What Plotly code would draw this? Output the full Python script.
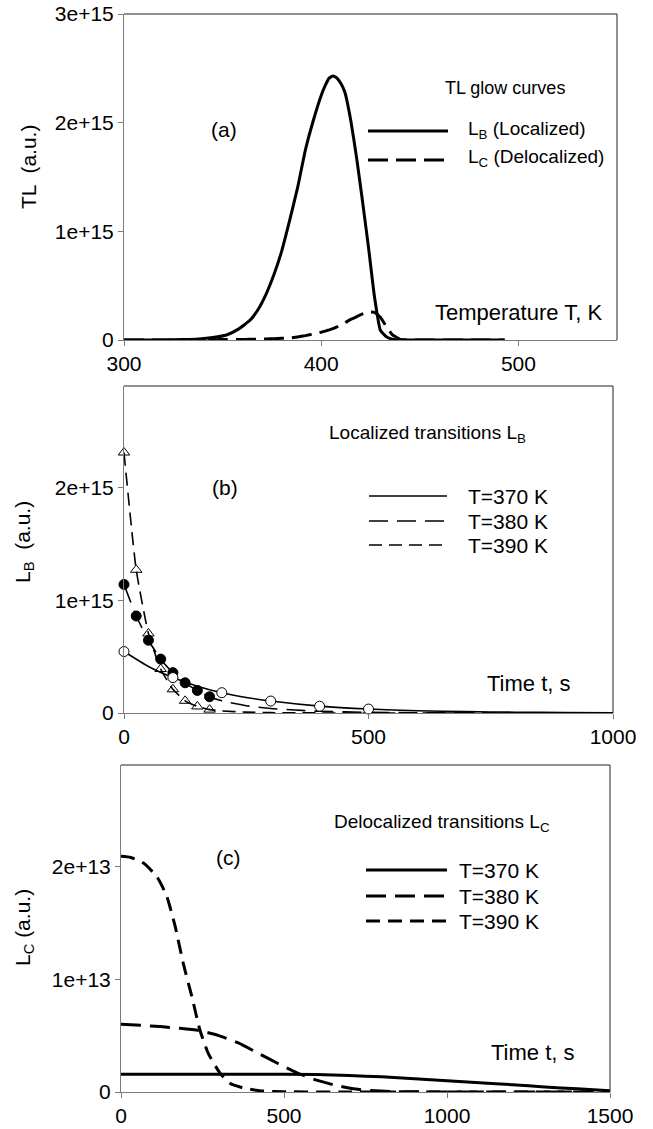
import plotly.graph_objects as go

W, H = 653, 1129
OFF = 0
FONT = "Liberation Sans, Arial, sans-serif"

# ---------------- Panel (a): TL glow curves ----------------
temp_a = [300, 320, 330, 338, 345, 352, 358, 364, 368, 372, 376, 380, 384, 388, 392, 396,
          400, 402, 404, 406, 408, 410, 412, 415, 418, 421, 424, 427, 430, 433, 436, 440,
          450, 470, 493]
lb_a = [0, 1e12, 4e12, 1e13, 2.3e13, 4.6e13, 1e14, 1.84e14, 2.8e14, 4.2e14, 6e14, 8.2e14,
        1.1e15, 1.4e15, 1.75e15, 2.02e15, 2.25e15, 2.34e15, 2.41e15, 2.43e15, 2.41e15,
        2.36e15, 2.28e15, 2.02e15, 1.67e15, 1.27e15, 8.5e14, 4.0e14, 9e13, 3e13, 8e12, 1e12,
        0, 0, 0]
lc_a = [0, 5e11, 1e12, 2e12, 3e12, 4e12, 5e12, 6e12, 8e12, 1e13, 1.2e13, 1.5e13, 1.8e13,
        2.8e13, 4e13, 5.5e13, 7.2e13, 8.2e13, 9.3e13, 1.05e14, 1.2e14, 1.4e14, 1.58e14,
        1.9e14, 2.15e14, 2.4e14, 2.58e14, 2.55e14, 2.1e14, 1.25e14, 5e13, 6e12, 0, 0, 0]

# ---------------- Panel (b): localized transitions L_B ----------------
t_pts_370 = [0, 100, 200, 300, 400, 500]
lb_pts_370 = [5.45e14, 3.14e14, 1.8e14, 1.06e14, 6e13, 3.5e13]
t_pts_380 = [0, 25, 50, 75, 100, 125, 150, 175]
lb_pts_380 = [1.14e15, 8.6e14, 6.45e14, 4.78e14, 3.58e14, 2.68e14, 2.0e14, 1.44e14]
t_pts_390 = [0, 25, 50, 75, 100, 125, 150, 175]
lb_pts_390 = [2.31e15, 1.27e15, 7.05e14, 3.9e14, 2.1e14, 1.08e14, 5.8e13, 3.0e13]

t_line_370 = [0, 50, 100, 150, 200, 250, 300, 400, 500, 600, 700, 800, 900, 1000]
lb_line_370 = [5.45e14, 4.12e14, 3.14e14, 2.38e14, 1.8e14, 1.38e14, 1.06e14, 6.1e13,
               3.5e13, 2e13, 1.2e13, 7e12, 4e12, 2.5e12]
t_line_380 = [0, 25, 50, 75, 100, 125, 150, 175, 200, 250, 300, 350, 400, 500, 600, 700,
              800, 1000]
lb_line_380 = [1.14e15, 8.6e14, 6.45e14, 4.78e14, 3.58e14, 2.68e14, 2.0e14, 1.44e14,
               1.08e14, 6.5e13, 4e13, 2.6e13, 1.5e13, 6e12, 2.5e12, 1e12, 5e11, 1e11]
t_line_390 = [0, 25, 50, 75, 100, 125, 150, 175, 200, 250, 300, 400, 500, 700, 1000]
lb_line_390 = [2.31e15, 1.27e15, 7.05e14, 3.9e14, 2.1e14, 1.08e14, 5.8e13, 3.0e13, 1.8e13,
               8e12, 3e12, 5e11, 1e11, 0, 0]

# ---------------- Panel (c): delocalized transitions L_C ----------------
t_c_370 = [0, 200, 400, 600, 700, 800, 900, 1000, 1100, 1200, 1300, 1400, 1500]
lc_c_370 = [1.57e12, 1.57e12, 1.57e12, 1.55e12, 1.46e12, 1.35e12, 1.18e12, 1.0e12, 8.3e11,
            6.5e11, 4.5e11, 2.8e11, 1.0e11]
t_c_380 = [0, 60, 120, 180, 240, 300, 360, 420, 480, 540, 600, 660, 720, 780, 850, 1000,
           1200, 1500]
lc_c_380 = [6.0e12, 5.92e12, 5.8e12, 5.65e12, 5.45e12, 5.0e12, 4.35e12, 3.45e12, 2.55e12,
            1.7e12, 1.05e12, 5.8e11, 2.6e11, 1e11, 3e10, 0, 0, 0]
t_c_390 = [0, 30, 69, 110, 140, 166, 191, 217, 242, 268, 304, 334, 370, 396, 430, 500,
           700, 1000, 1500]
lc_c_390 = [2.09e13, 2.08e13, 2.03e13, 1.91e13, 1.74e13, 1.47e13, 1.14e13, 8.5e12, 5.5e12,
            3.4e12, 1.66e12, 7.7e11, 4e11, 2.4e11, 1e11, 2e10, 0, 0, 0]

legend_labels_t = ["T=370 K", "T=380 K", "T=390 K"]

DASH_LONG = "19px,9px"
DASH_SHORT = "13px,7px"


def px(x):
    return (x - OFF) / W


def py(y):
    return 1 - (y - OFF) / H


fig = go.Figure()

# panel a
fig.add_trace(go.Scatter(x=temp_a, y=lb_a, mode="lines", line=dict(color="black", width=3, shape="spline", smoothing=0.4),
                         xaxis="x", yaxis="y", showlegend=False))
fig.add_trace(go.Scatter(x=temp_a, y=lc_a, mode="lines", line=dict(color="black", width=3, dash="20px,8px", shape="spline", smoothing=0.3),
                         xaxis="x", yaxis="y", showlegend=False))

# panel b lines
fig.add_trace(go.Scatter(x=t_line_370, y=lb_line_370, mode="lines", line=dict(color="black", width=1.6, shape="spline", smoothing=0.5),
                         xaxis="x2", yaxis="y2", showlegend=False))
fig.add_trace(go.Scatter(x=t_line_380, y=lb_line_380, mode="lines", line=dict(color="black", width=1.6, dash=DASH_LONG, shape="spline", smoothing=0.5),
                         xaxis="x2", yaxis="y2", showlegend=False))
fig.add_trace(go.Scatter(x=t_line_390, y=lb_line_390, mode="lines", line=dict(color="black", width=1.6, dash=DASH_SHORT, shape="spline", smoothing=0.5),
                         xaxis="x2", yaxis="y2", showlegend=False))
# panel b markers
fig.add_trace(go.Scatter(x=t_pts_390, y=lb_pts_390, mode="markers", cliponaxis=False,
                         marker=dict(symbol="triangle-up-open", size=10, color="black", line=dict(width=1)),
                         xaxis="x2", yaxis="y2", showlegend=False))
fig.add_trace(go.Scatter(x=t_pts_380, y=lb_pts_380, mode="markers", cliponaxis=False,
                         marker=dict(symbol="circle", size=10, color="black", line=dict(width=1, color="black")),
                         xaxis="x2", yaxis="y2", showlegend=False))
fig.add_trace(go.Scatter(x=t_pts_370, y=lb_pts_370, mode="markers", cliponaxis=False,
                         marker=dict(symbol="circle", size=10, color="white", line=dict(width=1, color="black")),
                         xaxis="x2", yaxis="y2", showlegend=False))

# panel c
fig.add_trace(go.Scatter(x=t_c_370, y=lc_c_370, mode="lines", line=dict(color="black", width=3, shape="spline", smoothing=0.5),
                         xaxis="x3", yaxis="y3", showlegend=False))
fig.add_trace(go.Scatter(x=t_c_380, y=lc_c_380, mode="lines", line=dict(color="black", width=3, dash="20px,9px", shape="spline", smoothing=0.5),
                         xaxis="x3", yaxis="y3", showlegend=False))
fig.add_trace(go.Scatter(x=t_c_390, y=lc_c_390, mode="lines", line=dict(color="black", width=3, dash="14px,8px", shape="spline", smoothing=0.5),
                         xaxis="x3", yaxis="y3", showlegend=False))

AXC = "#7a7a7a"
tickfont = dict(family=FONT, size=21, color="black")


def xax(dom, rng, tv, anchor):
    return dict(domain=dom, range=rng, autorange=False, automargin=False, tickvals=tv,
                ticktext=[str(v) for v in tv], ticklabeloverflow="allow",
                ticks="outside", ticklen=5, tickcolor=AXC, showline=True, linecolor=AXC, linewidth=1,
                showgrid=False, zeroline=False, tickfont=tickfont, anchor=anchor, fixedrange=True)


def yax(dom, rng, tv, tt, anchor):
    return dict(domain=dom, range=rng, autorange=False, automargin=False, tickvals=tv, ticktext=tt,
                ticklabeloverflow="allow",
                ticks="outside", ticklen=5, tickcolor=AXC, showline=True, linecolor=AXC, linewidth=1,
                showgrid=False, zeroline=False, tickfont=tickfont, anchor=anchor, fixedrange=True)


fig.update_layout(
    template="none",
    width=W, height=H, margin=dict(l=0, r=0, t=0, b=0, pad=0, autoexpand=False),
    paper_bgcolor="white", plot_bgcolor="white",
    font=dict(family=FONT, color="black"),
    hovermode=False,
    xaxis=xax([px(124), px(617)], [300, 550], [300, 400, 500], "y"),
    yaxis=yax([py(340), py(14)], [0, 3e15], [0, 1e15, 2e15, 3e15], ["0", "1e+15", "2e+15", "3e+15"], "x"),
    xaxis2=xax([px(124), px(613)], [0, 1000], [0, 500, 1000], "y2"),
    yaxis2=yax([py(713), py(386)], [0, 2.9e15], [0, 1e15, 2e15], ["0", "1e+15", "2e+15"], "x2"),
    xaxis3=xax([px(121), px(610)], [0, 1500], [0, 500, 1000, 1500], "y3"),
    yaxis3=yax([py(1092), py(765)], [0, 2.9e13], [0, 1e13, 2e13], ["0", "1e+13", "2e+13"], "x3"),
)

shapes = []
# top and right frame lines for each panel
for xa in ["x", "x2", "x3"]:
    ya = xa.replace("x", "y")
    shapes.append(dict(type="line", xref=f"{xa} domain", yref=f"{ya} domain", x0=0, x1=1, y0=1, y1=1,
                       line=dict(color="#222222", width=1)))
    shapes.append(dict(type="line", xref=f"{xa} domain", yref=f"{ya} domain", x0=1, x1=1, y0=0, y1=1,
                       line=dict(color="#222222", width=1)))

annotations = []


def text(x, y, s, size, xanchor="left", angle=0):
    annotations.append(dict(x=px(x), y=py(y), xref="paper", yref="paper", text=s, showarrow=False,
                            xanchor=xanchor, yanchor="middle", textangle=angle,
                            font=dict(family=FONT, size=size, color="black")))


def legend_line(x0, x1, y, dash, width):
    shapes.append(dict(type="line", xref="paper", yref="paper", x0=px(x0), x1=px(x1), y0=py(y), y1=py(y),
                       line=dict(color="black", width=width, dash=dash)))


# panel a texts
text(224, 129, "(a)", 21, "center")
text(443, 88, "TL glow curves", 18)
legend_line(368, 448, 131, "solid", 3)
legend_line(368, 448, 160, "20px,8px", 3)
text(466, 130, "L<sub>B</sub> (Localized)", 19)
text(466, 158, "L<sub>C</sub> (Delocalized)", 19)
text(433, 313, "Temperature T, K", 22)
text(28, 167, "TL  (a.u.)", 21, "center", -90)

# panel b texts
text(225, 488, "(b)", 21, "center")
text(327, 434, "Localized transitions L<sub>B</sub>", 19)
for yy, dsh, lab in zip([496, 521, 545], ["solid", DASH_LONG, DASH_SHORT], legend_labels_t):
    legend_line(369, 447, yy, dsh, 1.6)
    text(466, yy, lab, 21)
text(485, 683, "Time t, s", 22)
text(24, 542, "L<sub>B</sub>  (a.u.)", 21, "center", -90)

# panel c texts
text(228, 857, "(c)", 21, "center")
text(332, 823, "Delocalized transitions L<sub>C</sub>", 19)
for yy, dsh, lab in zip([870, 896, 921], ["solid", "20px,9px", "14px,8px"], legend_labels_t):
    legend_line(366, 447, yy, dsh, 3)
    text(457, yy, lab, 21)
text(489, 1052, "Time t, s", 22)
text(24, 928, "L<sub>C</sub> (a.u.)", 21, "center", -90)

fig.update_layout(shapes=shapes, annotations=annotations)
fig.write_html("out.html", config={"displayModeBar": False},
               post_script="document.body.style.margin='0px';document.body.style.padding='0px';")
